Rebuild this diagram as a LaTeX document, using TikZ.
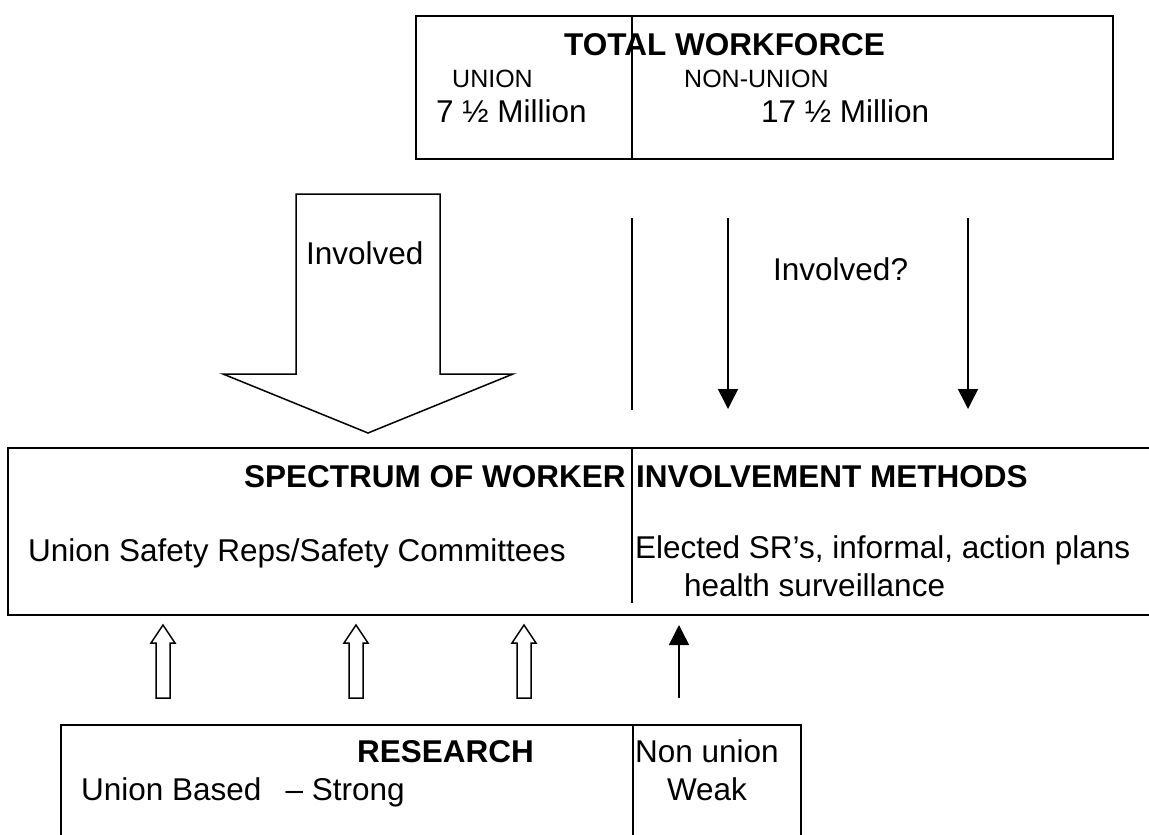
\documentclass[tikz,border=0pt]{standalone}
\usepackage{fontspec}
\setmainfont{Liberation Sans}
\usetikzlibrary{arrows.meta,
                positioning
            }

\begin{document}
\begin{tikzpicture}[x=1pt, y=-1pt,
    frame/.style={draw, line width=1.5pt, anchor=north west, inner sep=0pt},
    txt/.style={anchor=base west, inner sep=0pt, font=\fontsize{31.5}{38}\selectfont},
    headtxt/.style={anchor=base west, inner sep=0pt, font=\fontsize{31.5}{38}\selectfont\bfseries},
    smalltxt/.style={anchor=base west, inner sep=0pt, font=\fontsize{25}{30}\selectfont},
    divline/.style={line width=1.5pt},
    hollow/.style={draw, line width=1.5pt, fill=white, line join=miter},
    solidarrow/.style={line width=1.5pt, -{Triangle[length=20pt, width=20pt]}}
]
\useasboundingbox (0,0) rectangle (1149,835);

% Total workforce box
\node (total) [frame, minimum width=697, minimum height=143] at (415,15) {};
\draw[divline] (632,15) -- (632,158);
\node (totalhead) [headtxt] at (564,55) {TOTAL WORKFORCE};
\node (unionlbl) [smalltxt] at (452,87) {UNION};
\node (nonunionlbl) [smalltxt] at (684,87) {NON-UNION};
\node (unionnum) [txt] at (436,122) {7 ½ Million};
\node (nonunionnum) [txt] at (761,122) {17 ½ Million};

% Union side: big hollow arrow
\draw[hollow] (296,194) -- (440,194) -- (440,374) -- (513,374) -- (368,433)
    -- (223,374) -- (296,374) -- cycle;
\node (involved) [txt] at (306,264) {Involved};

% Non-union side: line and arrows
\coordinate (sep top) at (632,218);
\coordinate (sep bot) at (632,410);
\coordinate (a1 top) at (728,218);
\coordinate (a1 bot) at (728,409);
\coordinate (a2 top) at (968,218);
\coordinate (a2 bot) at (968,409);
\draw[divline] (sep top) -- (sep bot);
\draw[solidarrow] (a1 top) -- (a1 bot);
\draw[solidarrow] (a2 top) -- (a2 bot);
\node (involvedq) [txt] at (773,280) {Involved?};

% Spectrum box
\node (spectrum) [frame, minimum width=1160, minimum height=167] at (7,447) {};
\draw[divline] (632,447) -- (632,603);
\node (spechead) [headtxt] at (244,487) {SPECTRUM OF WORKER};
\node (spechead2) [headtxt] at (636,487) {INVOLVEMENT METHODS};
\node (unionreps) [txt] at (28,561) {Union Safety Reps/Safety Committees};
\node (elected) [txt] at (635,558) {Elected SR’s, informal, action plans};
\node (health) [txt] at (684,596) {health surveillance};

% Research arrows
\foreach \x in {163,356,524}
    \draw[hollow] (\x-7,698) -- (\x-7,643) -- (\x-12,643) -- (\x,625)
        -- (\x+12,643) -- (\x+7,643) -- (\x+7,698) -- cycle;
\coordinate (r4 bot) at (679,698);
\coordinate (r4 top) at (679,625);
\draw[solidarrow] (r4 bot) -- (r4 top);

% Research box
\node (research) [frame, minimum width=740, minimum height=140] at (60,724) {};
\draw[divline] (633,724) -- (633,850);
\node (reshead) [headtxt] at (357,762) {RESEARCH};
\node (unionbased) [txt] at (81,800) {Union Based\hspace{24pt}– Strong};
\node (nonunion) [txt, align=center, anchor=base] at (707,762) {Non union};
\node (weak) [txt, anchor=base] at (707,800) {Weak};
\end{tikzpicture}
\end{document}
